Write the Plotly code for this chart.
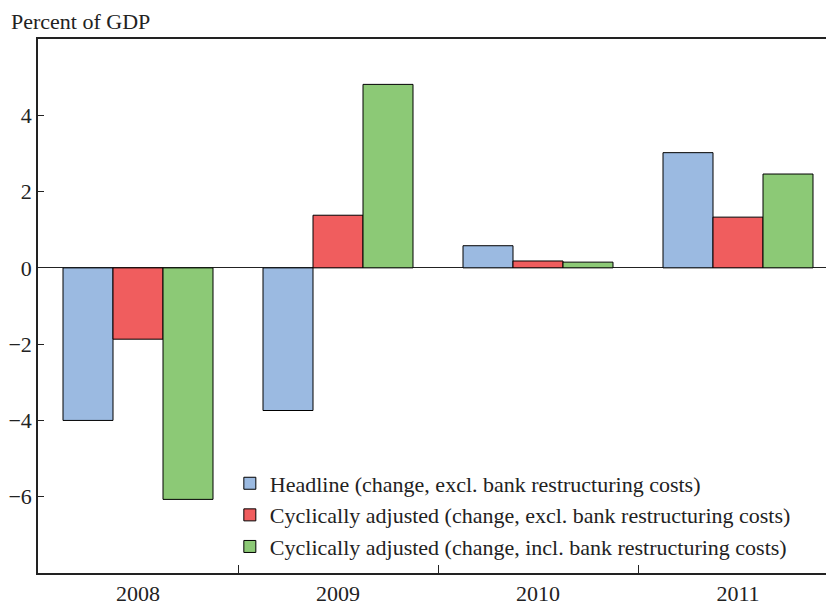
"""Fiscal balance changes chart recreated with Plotly."""
import plotly.graph_objects as go

years = ['2008', '2009', '2010', '2011']
headline = [-4.0, -3.74, 0.58, 3.02]
cyc_excl = [-1.87, 1.38, 0.18, 1.33]
cyc_incl = [-6.07, 4.81, 0.15, 2.46]

series = [
    ('Headline (change, excl. bank restructuring costs)', headline, '#9bbae1'),
    ('Cyclically adjusted (change, excl. bank restructuring costs)', cyc_excl, '#f05d5e'),
    ('Cyclically adjusted (change, incl. bank restructuring costs)', cyc_incl, '#8cc976'),
]

fig = go.Figure()

for name, vals, color in series:
    fig.add_trace(go.Bar(
        x=years,
        y=vals,
        name=name,
        marker=dict(color=color, line=dict(color='black', width=1)),
    ))

# page body adds an 8px offset, so margins are trimmed to compensate
fig.update_layout(
    width=826,
    height=598,
    margin=dict(l=30, r=0, t=31, b=22),
    barmode='group',
    bargap=0.25,
    bargroupgap=0,
    paper_bgcolor='white',
    plot_bgcolor='white',
    font=dict(family='Liberation Serif', size=22, color='#222'),
    showlegend=True,
    legend=dict(
        x=0.241, y=0.207,
        xanchor='left', yanchor='top',
        bgcolor='rgba(0,0,0,0)',
        font=dict(size=22),
    ),
)

fig.update_xaxes(
    type='category',
    range=[-0.5, 3.48],
    showline=True, linecolor='#222', linewidth=1.5,
    mirror=True,
    ticks='inside', tickson='boundaries', ticklen=8, tickcolor='#222',
    showgrid=False,
)

fig.update_yaxes(
    range=[-8, 6],
    tickvals=[-6, -4, -2, 0, 2, 4],
    showline=True, linecolor='#222', linewidth=1.5,
    ticks='inside', ticklen=6, tickcolor='#222',
    showgrid=False,
    zeroline=True, zerolinecolor='#222', zerolinewidth=1,
)

fig.add_annotation(
    text='Percent of GDP',
    xref='paper', yref='paper',
    x=0, y=1,
    xshift=-28, yshift=4,
    xanchor='left', yanchor='bottom',
    showarrow=False,
    borderpad=0,
    font=dict(size=22, color='#222'),
)

fig.write_html("out.html")
